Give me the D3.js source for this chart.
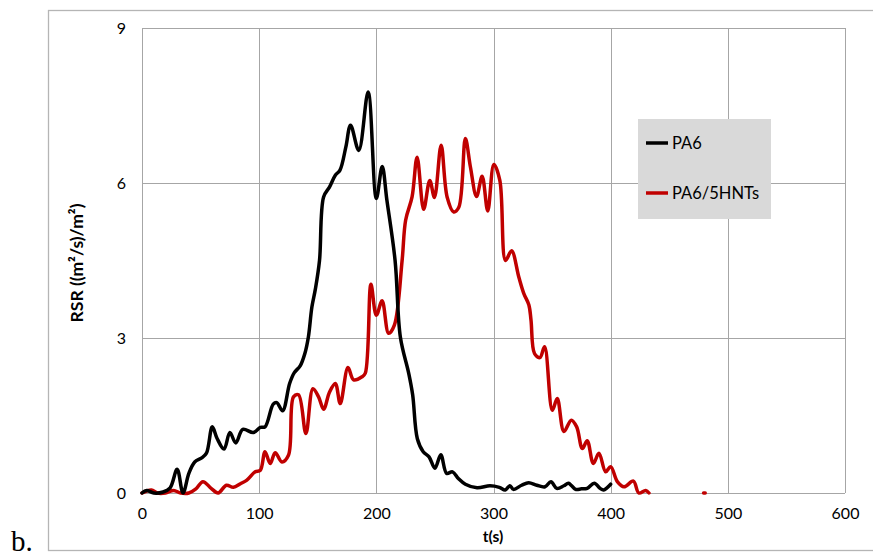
<!DOCTYPE html>
<html>
<head>
<meta charset="utf-8">
<script src="https://cdn.jsdelivr.net/npm/d3@7"></script>
<style>
  html, body { margin: 0; padding: 0; background: #fff; }
  svg { display: block; }
</style>
</head>
<body>
<svg id="chart" width="873" height="556"></svg>
<script>
// ---- data ----
const xTicks = [0, 100, 200, 300, 400, 500, 600];
const yTicks = [0, 3, 6, 9];
const seriesNames = ["PA6", "PA6/5HNTs"];

const pa6Time = [0,4,10,18,24,30,35,40,45,51,55,60,64,70,75,80,86,95,101,105,112,115,120,126,130,135,139,142,145,148,151.5,155,160,165,169,174,178,185,193,200,205,209,216,220.5,227.6,231,235,240,245,250,255,260,265,270,276,286,297,305,310,314,317,324,330,337,344,349,354,360,364,370,375,380,386,391,394,400];
const pa6Value = [0,0.05,0,0.02,0.1,0.46,0,0.38,0.6,0.68,0.77,1.28,1.06,0.85,1.17,0.97,1.23,1.17,1.27,1.28,1.72,1.75,1.59,2.12,2.33,2.46,2.7,3.02,3.6,3.95,4.5,5.73,5.92,6.15,6.25,6.7,7.12,6.63,7.76,5.7,6.32,5.67,4.5,3.02,2.32,1.9,1.05,0.8,0.7,0.48,0.74,0.38,0.41,0.28,0.17,0.1,0.14,0.11,0.06,0.14,0.07,0.15,0.2,0.15,0.12,0.22,0.09,0.14,0.19,0.07,0.08,0.09,0.19,0.09,0.06,0.17];

const hntTime = [0,8,13,20,27,33,40,46,52,59,65,72,78,84,89.5,96.6,101,105,109.4,113.7,119.4,125,129.3,133.6,139.9,145.9,150.7,155,160,165,169.2,175.8,180.6,187.8,190.6,195.4,200,204.9,210.5,215.4,222,225,230.5,234.8,240.4,245.6,249.6,255.3,260.4,266,270.4,276,280.3,285.5,290.3,295.1,300.3,305.4,310.3,315.4,321.6,325.9,330.2,332,335,339.6,343.6,350.2,354.4,360.1,366.4,371,375.8,380,385.2,390,395.7,400,405.7,411.4,419.4,424,429.9,432.7];
const hntValue = [0,0.06,0,0,0.05,0,0,0.08,0.22,0.09,0,0.15,0.11,0.18,0.25,0.41,0.44,0.8,0.57,0.78,0.6,0.73,1.86,1.9,1.15,2.02,1.86,1.62,1.95,2.12,1.73,2.43,2.19,2.25,2.32,4.04,3.44,3.72,3.09,3.25,4.5,5.28,5.73,6.5,5.49,6.05,5.72,6.73,5.73,5.44,5.53,6.86,6.31,5.74,6.13,5.46,6.36,6.05,4.5,4.69,4.18,3.86,3.64,3.35,2.7,2.62,2.83,1.6,1.83,1.19,1.41,1.28,0.86,1.01,0.57,0.77,0.41,0.51,0.22,0.12,0.23,0,0.05,0];
const hntTailTime = [479.3, 480.7];
const hntTailValue = [0, 0];

// ---- layout ----
const svg = d3.select("#chart");
const W = 873, H = 556;
const plot = { left: 142, right: 845, top: 28, bottom: 493 };
const colors = ["#000000", "#c00000"];
const fontSans = "Lato, 'Open Sans', sans-serif";

svg.append("rect").attr("x", 0).attr("y", 0).attr("width", W).attr("height", H).attr("fill", "#fff");
// outer frame
svg.append("rect").attr("x", 48.5).attr("y", 10.5).attr("width", 830).attr("height", 540)
  .attr("fill", "none").attr("stroke", "#b5b5b5").attr("stroke-width", 1.3);

const x = d3.scaleLinear().domain([0, 600]).range([plot.left, plot.right]);
const y = d3.scaleLinear().domain([0, 9]).range([plot.bottom, plot.top]);

// gridlines
const grid = svg.append("g");
xTicks.forEach(t => {
  grid.append("line").attr("x1", Math.round(x(t)) + 0.5).attr("x2", Math.round(x(t)) + 0.5)
    .attr("y1", plot.top).attr("y2", plot.bottom).attr("stroke", "#a6a6a6").attr("stroke-width", 1);
});
yTicks.forEach(t => {
  grid.append("line").attr("y1", Math.round(y(t)) + 0.5).attr("y2", Math.round(y(t)) + 0.5)
    .attr("x1", plot.left).attr("x2", plot.right).attr("stroke", "#a6a6a6").attr("stroke-width", 1);
});

// axes (labels only)
const xAxis = d3.axisBottom(x).tickValues(xTicks).tickSize(0).tickPadding(15);
const gx = svg.append("g").attr("transform", `translate(0,${plot.bottom})`).call(xAxis);
gx.select(".domain").remove();
gx.selectAll("text").attr("font-family", fontSans).attr("font-size", 16).attr("fill", "#000");

const yAxis = d3.axisLeft(y).tickValues(yTicks).tickSize(0).tickPadding(16);
const gy = svg.append("g").attr("transform", `translate(${plot.left},0)`).call(yAxis);
gy.select(".domain").remove();
gy.selectAll("text").attr("font-family", fontSans).attr("font-size", 16).attr("fill", "#000");

// titles
svg.append("text").attr("x", 493).attr("y", 542).attr("text-anchor", "middle")
  .attr("font-family", fontSans).attr("font-weight", "bold").attr("font-size", 15.5).text("t(s)");
svg.append("text").attr("transform", "translate(83,263) rotate(-90)").attr("text-anchor", "middle")
  .attr("font-family", fontSans).attr("font-weight", "bold").attr("font-size", 17.5).text("RSR ((m²/s)/m²)");
svg.append("text").attr("x", 11).attr("y", 551)
  .attr("font-family", "'Liberation Serif', 'Times New Roman', serif").attr("font-size", 29).text("b.");

// lines
const line = d3.line().x(d => x(d[0])).y(d => y(d[1])).curve(d3.curveCatmullRom.alpha(0.5));
const pa6 = pa6Time.map((t, i) => [t, pa6Value[i]]);
const hnt = hntTime.map((t, i) => [t, hntValue[i]]);
const hntTail = hntTailTime.map((t, i) => [t, hntTailValue[i]]);

svg.append("path").datum(hnt).attr("d", line).attr("fill", "none").attr("stroke", colors[1])
  .attr("stroke-width", 3.5).attr("stroke-linejoin", "round").attr("stroke-linecap", "round");
svg.append("path").datum(hntTail).attr("d", line).attr("fill", "none").attr("stroke", colors[1])
  .attr("stroke-width", 3.5).attr("stroke-linecap", "round");
svg.append("path").datum(pa6).attr("d", line).attr("fill", "none").attr("stroke", colors[0])
  .attr("stroke-width", 3.5).attr("stroke-linejoin", "round").attr("stroke-linecap", "round");

// legend
const lg = svg.append("g");
lg.append("rect").attr("x", 638).attr("y", 119).attr("width", 133).attr("height", 100).attr("fill", "#d9d9d9");
const legendY = [143, 193];
seriesNames.forEach((name, i) => {
  lg.append("line").attr("x1", 646).attr("x2", 668).attr("y1", legendY[i]).attr("y2", legendY[i])
    .attr("stroke", colors[i]).attr("stroke-width", 3.5);
  lg.append("text").attr("x", 672).attr("y", legendY[i]).attr("dy", "0.35em")
    .attr("font-family", fontSans).attr("font-size", 16.5).text(name);
});
</script>
</body>
</html>
